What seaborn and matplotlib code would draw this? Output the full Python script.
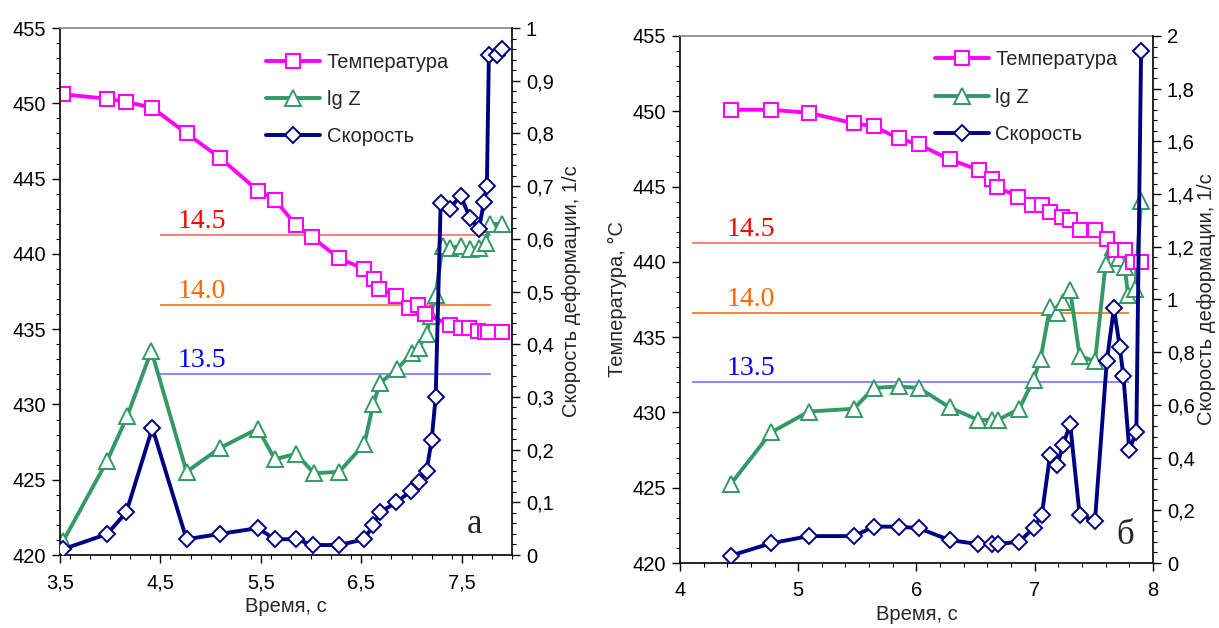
import matplotlib
matplotlib.use("Agg")
import matplotlib.pyplot as plt
from matplotlib.ticker import MultipleLocator, FuncFormatter
import seaborn as sns

# ---- panel "а" ----
a_temp_t = [3.53, 3.97, 4.16, 4.42, 4.76, 5.09, 5.47, 5.64, 5.85, 6.01, 6.28, 6.53, 6.63,
            6.68, 6.85, 6.97, 7.06, 7.13, 7.38, 7.49, 7.57, 7.66, 7.73, 7.76, 7.90]
a_temp = [450.6, 450.3, 450.1, 449.7, 448.0, 446.4, 444.2, 443.6, 441.9, 441.1, 439.7, 439.0, 438.3,
          437.7, 437.2, 436.4, 436.6, 436.0, 435.3, 435.1, 435.1, 434.9, 434.8, 434.8, 434.8]
a_lgz_t = [3.53, 3.97, 4.17, 4.41, 4.76, 5.09, 5.47, 5.64, 5.85, 6.03, 6.28, 6.53, 6.62, 6.69,
           6.86, 7.00, 7.07, 7.15, 7.19, 7.24, 7.31, 7.38, 7.49, 7.58, 7.67, 7.74, 7.78, 7.90]
a_lgz = [12.30, 12.88, 13.20, 13.67, 12.80, 12.97, 13.11, 12.89, 12.93, 12.79, 12.80, 13.00, 13.29, 13.44,
         13.54, 13.65, 13.69, 13.79, 13.92, 14.07, 14.42, 14.41, 14.42, 14.40, 14.41, 14.44, 14.58, 14.58]
a_rate_t = [3.53, 3.97, 4.16, 4.42, 4.76, 5.09, 5.47, 5.64, 5.85, 6.02, 6.28, 6.53, 6.62, 6.69, 6.85,
            6.99, 7.07, 7.15, 7.20, 7.24, 7.29, 7.38, 7.49, 7.58, 7.67, 7.72, 7.75, 7.77, 7.85, 7.90]
a_rate = [0.011, 0.040, 0.081, 0.241, 0.030, 0.040, 0.051, 0.030, 0.030, 0.019, 0.019, 0.030, 0.057, 0.082, 0.100,
          0.121, 0.139, 0.160, 0.218, 0.299, 0.668, 0.657, 0.682, 0.640, 0.618, 0.669, 0.700, 0.949, 0.949, 0.960]

# ---- panel "б" ----
b_temp_t = [4.43, 4.77, 5.09, 5.47, 5.64, 5.85, 6.02, 6.28, 6.53, 6.64, 6.68, 6.86,
            6.98, 7.06, 7.13, 7.23, 7.30, 7.38, 7.51, 7.61, 7.68, 7.76, 7.83, 7.90]
b_temp = [450.1, 450.1, 449.9, 449.2, 449.0, 448.2, 447.8, 446.8, 446.1, 445.5, 445.0, 444.3,
          443.8, 443.8, 443.3, 443.0, 442.8, 442.1, 442.1, 441.5, 440.8, 440.8, 440.0, 440.0]
b_lgz_t = [4.43, 4.77, 5.09, 5.47, 5.64, 5.85, 6.02, 6.28, 6.52, 6.64, 6.69, 6.87, 6.99, 7.05,
           7.13, 7.19, 7.24, 7.30, 7.38, 7.51, 7.60, 7.66, 7.71, 7.76, 7.79, 7.85, 7.90]
b_lgz = [12.77, 13.14, 13.29, 13.31, 13.46, 13.47, 13.46, 13.32, 13.23, 13.23, 13.23, 13.31, 13.52, 13.67,
         14.04, 14.00, 14.08, 14.16, 13.69, 13.65, 14.35, 14.47, 14.39, 14.33, 14.13, 14.17, 14.80]
b_rate_t = [4.43, 4.77, 5.09, 5.47, 5.64, 5.85, 6.02, 6.28, 6.52, 6.64, 6.69, 6.87, 6.99, 7.06,
            7.13, 7.19, 7.24, 7.30, 7.38, 7.51, 7.61, 7.67, 7.72, 7.75, 7.80, 7.86, 7.90]
b_rate = [0.028, 0.075, 0.102, 0.102, 0.138, 0.138, 0.132, 0.087, 0.072, 0.072, 0.072, 0.081, 0.132, 0.182,
          0.410, 0.372, 0.448, 0.528, 0.182, 0.161, 0.767, 0.967, 0.819, 0.710, 0.429, 0.498, 1.944]

# lg Z levels drawn as horizontal lines
levels = [14.5, 14.0, 13.5]
level_text = ['14.5', '14.0', '13.5']
level_text_colors = ['#FF0000', '#FF6600', '#0000FF']
level_line_colors = ['#FF5A5A', '#FF6600', '#6A6AFF']

series_labels = ['Температура', 'lg Z', 'Скорость']
C_TEMP, C_LGZ, C_RATE = '#FF00FF', '#339966', '#000080'

sns.set_theme(style='ticks')
plt.rcParams['font.family'] = ['Liberation Sans', 'DejaVu Sans']
plt.rcParams['axes.unicode_minus'] = False

comma = FuncFormatter(lambda v, p: f'{v:.10g}'.replace('.', ','))
FS = 14.5


def panel(fig, rect, temp_t, temp, lgz_t, lgz, rate_t, rate, xlim, xmajor, rate_max, rate_major,
          rate_minor, hline_span, level_x, letter, letter_xy, leg_anchor, temp_label, xlabel_y, vpad):
    ax = fig.add_axes(rect)
    ax_z = ax.twinx()
    ax_v = ax.twinx()
    ax_z.set_zorder(1)
    ax.set_zorder(2)
    ax_v.set_zorder(3)
    for a in (ax, ax_z, ax_v):
        a.patch.set_visible(False)

    # lg Z threshold lines
    for lv, txt, tc, lc in zip(levels, level_text, level_text_colors, level_line_colors):
        ax_z.hlines(lv, hline_span[0], hline_span[1], color=lc, lw=1.1)
        ax_z.annotate(txt, (level_x, lv), xytext=(0, 5), textcoords='offset points',
                      color=tc, fontsize=20, family='Liberation Serif', va='baseline')

    sns.lineplot(x=lgz_t, y=lgz, ax=ax_z, color=C_LGZ, lw=2.8, marker='^', ms=11,
                 mfc='white', mec=C_LGZ, mew=1.4, sort=False, estimator=None,
                 label=series_labels[1], legend=False)
    sns.lineplot(x=temp_t, y=temp, ax=ax, color=C_TEMP, lw=2.8, marker='s', ms=10,
                 mfc='white', mec=C_TEMP, mew=1.5, sort=False, estimator=None,
                 label=series_labels[0], legend=False)
    sns.lineplot(x=rate_t, y=rate, ax=ax_v, color=C_RATE, lw=2.8, marker='D', ms=8.5,
                 mfc='white', mec=C_RATE, mew=1.4, sort=False, estimator=None,
                 label=series_labels[2], legend=False)

    ax.set_xlim(*xlim)
    ax.set_ylim(420, 455)
    ax_z.set_ylim(12.2027, 15.9865)
    ax_v.set_ylim(0, rate_max)

    ax.set_xticks(xmajor)
    ax.xaxis.set_minor_locator(MultipleLocator(0.2))
    ax.xaxis.set_major_formatter(comma)
    ax.yaxis.set_major_locator(MultipleLocator(5))
    ax.yaxis.set_minor_locator(MultipleLocator(1))
    ax_v.yaxis.set_major_locator(MultipleLocator(rate_major))
    ax_v.yaxis.set_minor_locator(MultipleLocator(rate_minor))
    ax_v.yaxis.set_major_formatter(comma)
    ax_z.set_yticks([])
    ax_z.tick_params(which='both', right=False, labelright=False)

    for a in (ax, ax_v):
        a.tick_params(which='major', length=6, width=1, colors='black', labelsize=FS, direction='out')
        a.tick_params(which='minor', length=3, width=0.8, colors='black', direction='out')
    ax.tick_params(axis='x', pad=7)
    ax.tick_params(axis='y', pad=4)
    ax_v.tick_params(axis='y', pad=4)

    for a in (ax, ax_z, ax_v):
        for s in a.spines.values():
            s.set_visible(False)
    ax.spines['left'].set_visible(True)
    ax.spines['bottom'].set_visible(True)
    ax.spines['top'].set_visible(True)
    ax.spines['top'].set_color('#8C8C8C')
    ax_v.spines['right'].set_visible(True)
    for s in (ax.spines['left'], ax.spines['bottom'], ax_v.spines['right']):
        s.set_color('black')
        s.set_linewidth(1.2)

    ax.set_xlabel('Время, с', fontsize=FS)
    ax.xaxis.set_label_coords(0.5, xlabel_y)
    ax.set_ylabel(temp_label, fontsize=FS, labelpad=4)
    ax_z.set_ylabel('')
    ax_v.set_ylabel('Скорость деформации, 1/с', fontsize=FS, labelpad=vpad)

    ax.text(letter_xy[0], letter_xy[1], letter, transform=ax.transAxes, fontsize=25,
            family='Liberation Serif', ha='center', va='center')

    handles = []
    for a in (ax, ax_z, ax_v):
        h, l = a.get_legend_handles_labels()
        handles += h
    ax_v.legend(handles=handles[:3], labels=series_labels, loc='upper left', bbox_to_anchor=leg_anchor,
                frameon=False, fontsize=FS, handlelength=2.7, handletextpad=0.3,
                labelspacing=0.9, borderpad=0, borderaxespad=0)
    return ax


fig = plt.figure(figsize=(12.19, 6.28), dpi=100)
fig.patch.set_facecolor('white')

panel(fig, [0.0492, 0.1162, 0.3708, 0.8392], a_temp_t, a_temp, a_lgz_t, a_lgz, a_rate_t, a_rate,
      xlim=(3.5, 8.0), xmajor=[3.5, 4.5, 5.5, 6.5, 7.5], rate_max=1.0, rate_major=0.1, rate_minor=0.02,
      hline_span=(4.5, 7.79), level_x=4.675, letter='а', letter_xy=(0.918, 0.057),
      leg_anchor=(0.456, 0.953), temp_label='', xlabel_y=-0.080, vpad=6)

panel(fig, [0.5578, 0.1035, 0.388, 0.8392], b_temp_t, b_temp, b_lgz_t, b_lgz, b_rate_t, b_rate,
      xlim=(4, 8), xmajor=[4, 5, 6, 7, 8], rate_max=2.0, rate_major=0.2, rate_minor=0.04,
      hline_span=(4.1, 7.8), level_x=4.397, letter='б', letter_xy=(0.941, 0.053),
      leg_anchor=(0.539, 0.9725), temp_label='Температура, °С', xlabel_y=-0.080, vpad=2)

fig.savefig('out.png', dpi=100, facecolor='white')
